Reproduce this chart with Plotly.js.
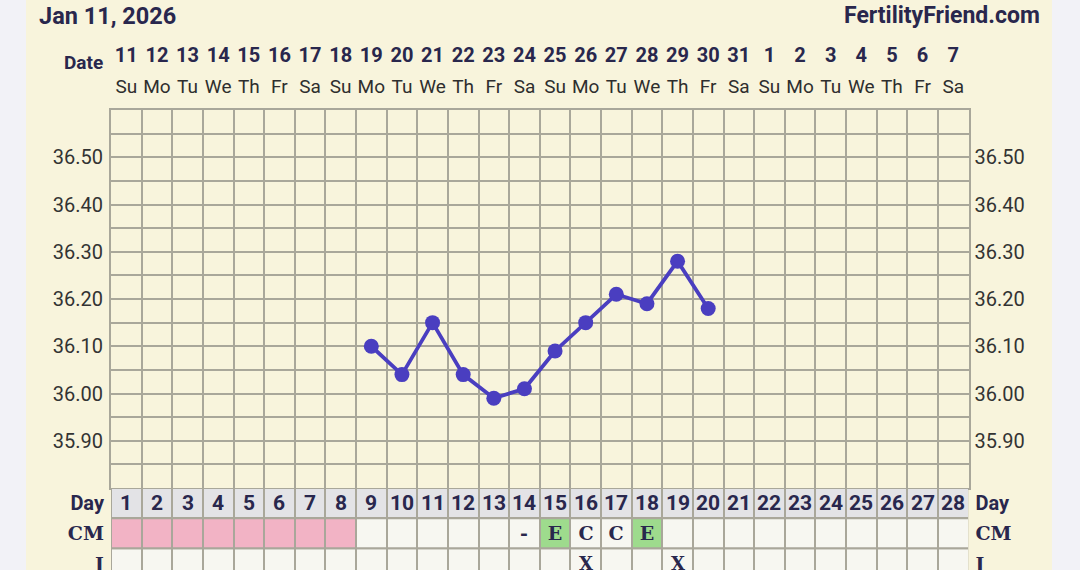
<!DOCTYPE html>
<html>
<head>
<meta charset="utf-8">
<script src="https://cdn.plot.ly/plotly-3.0.1.min.js"></script>
<style>html,body{margin:0;padding:0;background:#f2f2f7;}#chart{width:1080px;height:570px;}</style>
</head>
<body>
<div id="chart"></div>
<script>
// ---- data ----
const dayNumbers = [1,2,3,4,5,6,7,8,9,10,11,12,13,14,15,16,17,18,19,20,21,22,23,24,25,26,27,28];
const dateLabels = ['11','12','13','14','15','16','17','18','19','20','21','22','23','24','25','26','27','28','29','30','31','1','2','3','4','5','6','7'];
const weekdayLabels = ['Su','Mo','Tu','We','Th','Fr','Sa','Su','Mo','Tu','We','Th','Fr','Sa','Su','Mo','Tu','We','Th','Fr','Sa','Su','Mo','Tu','We','Th','Fr','Sa'];
const tempDays = [9,10,11,12,13,14,15,16,17,18,19,20];
const temps = [36.10,36.04,36.15,36.04,35.99,36.01,36.09,36.15,36.21,36.19,36.28,36.18];
const tempTickVals = [35.90,36.00,36.10,36.20,36.30,36.40,36.50];
const tempTickLabels = ['35.90','36.00','36.10','36.20','36.30','36.40','36.50'];
const periodDays = [1,2,3,4,5,6,7,8];
const cmDays = [14,15,16,17,18];
const cmMarks = ['-','E','C','C','E'];
const intercourseDays = [16,19];
const rowLabels = ['Day','CM','I'];
const chartDate = 'Jan 11, 2026';
const brand = 'FertilityFriend.com';

// ---- styles ----
const NAVY = '#29274d';
const GRID = '#a9a79a';
const CREAM = '#f8f4dc';
const CELL = '#f7f7f1';
const PINK = '#f2b3c5';
const GREEN = '#9edb8d';
const DAYROW = '#e3e3e6';
const LINE = '#4a3ec0';
const W = 1080, H = 570;
const xDom = [111/W, 968.5/W];
const yDom = [(H-488)/H, (H-110)/H];
const tDom = [0, (H-488)/H];
const tRange = [(H-488)/30.2, 0];

const cmZ = dayNumbers.map(d => {
  if (periodDays.includes(d)) return 1;
  const i = cmDays.indexOf(d);
  return (i >= 0 && cmMarks[i] === 'E') ? 2 : 0;
});
const cmText = dayNumbers.map(d => { const i = cmDays.indexOf(d); return i >= 0 ? cmMarks[i] : ''; });
const iText = dayNumbers.map(d => intercourseDays.includes(d) ? 'X' : '');
const dayText = dayNumbers.map(d => String(d));

const serifLabel = s => '<span style="font-family:\'DejaVu Serif\';font-size:19px">' + s + '</span>';
const rowTickText = rowLabels.map((s, i) => i === 0 ? '<b>' + s + '</b>' : '<b>' + serifLabel(s) + '</b>');

const traces = [
  {type:'heatmap', x:dayNumbers, y:[0.5], z:[dayNumbers.map(()=>0)], text:[dayText],
   texttemplate:'<b>%{text}</b>', textfont:{family:'Roboto', size:21, color:NAVY},
   colorscale:[[0,DAYROW],[1,DAYROW]], showscale:false, xgap:2, ygap:2, xaxis:'x', yaxis:'y3', hoverinfo:'skip'},
  {type:'heatmap', x:dayNumbers, y:[1.5], z:[cmZ], text:[cmText], zmin:0, zmax:2,
   texttemplate:'<b>%{text}</b>', textfont:{family:'DejaVu Serif', size:19, color:NAVY},
   colorscale:[[0,CELL],[0.33,CELL],[0.34,PINK],[0.66,PINK],[0.67,GREEN],[1,GREEN]],
   showscale:false, xgap:2, ygap:2, xaxis:'x', yaxis:'y3', hoverinfo:'skip'},
  {type:'heatmap', x:dayNumbers, y:[2.5], z:[dayNumbers.map(()=>0)], text:[iText],
   texttemplate:'<b>%{text}</b>', textfont:{family:'DejaVu Serif', size:18, color:NAVY},
   colorscale:[[0,CELL],[1,CELL]], showscale:false, xgap:2, ygap:2, xaxis:'x', yaxis:'y3', hoverinfo:'skip'},
  {type:'scatter', mode:'lines+markers', x:tempDays, y:temps, xaxis:'x', yaxis:'y',
   line:{color:LINE, width:3.8}, marker:{color:LINE, size:15}, hoverinfo:'skip'},
  {type:'scatter', x:[], y:[], xaxis:'x', yaxis:'y2', hoverinfo:'skip', showlegend:false},
  {type:'scatter', x:[], y:[], xaxis:'x2', yaxis:'y', hoverinfo:'skip', showlegend:false},
  {type:'scatter', x:[], y:[], xaxis:'x3', yaxis:'y', hoverinfo:'skip', showlegend:false},
  {type:'scatter', x:[], y:[], xaxis:'x', yaxis:'y4', hoverinfo:'skip', showlegend:false}
];

const tickFont = {family:'Roboto', size:20, color:'#333333'};
const layout = {
  width:W, height:H, autosize:false,
  margin:{l:0, r:0, t:0, b:0, pad:0},
  paper_bgcolor:'#f2f2f7', plot_bgcolor:CREAM,
  showlegend:false,
  xaxis:{domain:xDom, range:[0.5,28.5], tick0:0.5, dtick:1, showgrid:true, gridcolor:GRID, gridwidth:2,
         showticklabels:false, ticks:'', zeroline:false, showline:true, mirror:true, linecolor:GRID, linewidth:2, anchor:'y', fixedrange:true},
  xaxis2:{overlaying:'x', side:'top', anchor:'free', position:(H-66)/H, range:[0.5,28.5], tickmode:'array',
          tickvals:dayNumbers, ticktext:dateLabels.map(s=>'<b>'+s+'</b>'), ticks:'', showgrid:false, zeroline:false,
          showline:false, tickfont:{family:'Roboto', size:20, color:NAVY}},
  xaxis3:{overlaying:'x', side:'top', anchor:'free', position:(H-97)/H, range:[0.5,28.5], tickmode:'array',
          tickvals:dayNumbers, ticktext:weekdayLabels, ticks:'', showgrid:false, zeroline:false,
          showline:false, tickfont:{family:'Roboto', size:19, color:'#2e2e2e'}},
  yaxis:{domain:yDom, range:[35.8,36.6], tickmode:'array', tickvals:tempTickVals, ticktext:tempTickLabels,
         showgrid:true, gridcolor:GRID, gridwidth:2, zeroline:false, ticks:'', ticklabelstandoff:2,
         showline:true, mirror:true, linecolor:GRID, linewidth:2,
         minor:{tick0:35.8, dtick:0.05, showgrid:true, gridcolor:GRID, gridwidth:2, ticks:''},
         tickfont:tickFont, anchor:'x', fixedrange:true},
  yaxis2:{overlaying:'y', side:'right', anchor:'x', range:[35.8,36.6], tickmode:'array', tickvals:tempTickVals,
          ticktext:tempTickLabels, showgrid:false, zeroline:false, ticks:'', ticklabelstandoff:5, tickfont:tickFont},
  yaxis3:{domain:tDom, range:tRange, tickmode:'array', tickvals:[0.5,1.5,2.5], ticktext:rowTickText,
          showgrid:false, zeroline:false, ticks:'', ticklabelstandoff:6, anchor:'x', ticklabeloverflow:'allow',
          tickfont:{family:'Roboto', size:20, color:NAVY}},
  yaxis4:{overlaying:'y3', side:'right', anchor:'x', range:tRange, tickmode:'array', tickvals:[0.5,1.5,2.5],
          ticktext:rowTickText, showgrid:false, zeroline:false, ticks:'', ticklabelstandoff:6, ticklabeloverflow:'allow',
          tickfont:{family:'Roboto', size:20, color:NAVY}},
  shapes:[
    {type:'rect', xref:'paper', yref:'paper', x0:26/W, x1:1052/W, y0:0, y1:1, fillcolor:CREAM, line:{width:0}, layer:'below'},
    {type:'rect', xref:'x', yref:'y3', x0:0.5, x1:28.5, y0:0, y1:3, fillcolor:GRID, line:{width:0}, layer:'below'}
  ],
  annotations:[
    {xref:'paper', yref:'paper', x:37/W, y:(H-16)/H, xanchor:'left', yanchor:'middle', showarrow:false,
     text:'<b>'+chartDate+'</b>', font:{family:'Roboto', size:23.5, color:NAVY}},
    {xref:'paper', yref:'paper', x:1042/W, y:(H-16)/H, xanchor:'right', yanchor:'middle', showarrow:false,
     text:'<b>'+brand+'</b>', font:{family:'Roboto', size:23, color:NAVY}},
    {xref:'paper', yref:'paper', x:105/W, y:(H-62)/H, xanchor:'right', yanchor:'middle', showarrow:false,
     text:'<b>Date</b>', font:{family:'Roboto', size:19, color:NAVY}}
  ]
};

Plotly.newPlot('chart', traces, layout, {staticPlot:true, displayModeBar:false});
</script>
</body>
</html>
